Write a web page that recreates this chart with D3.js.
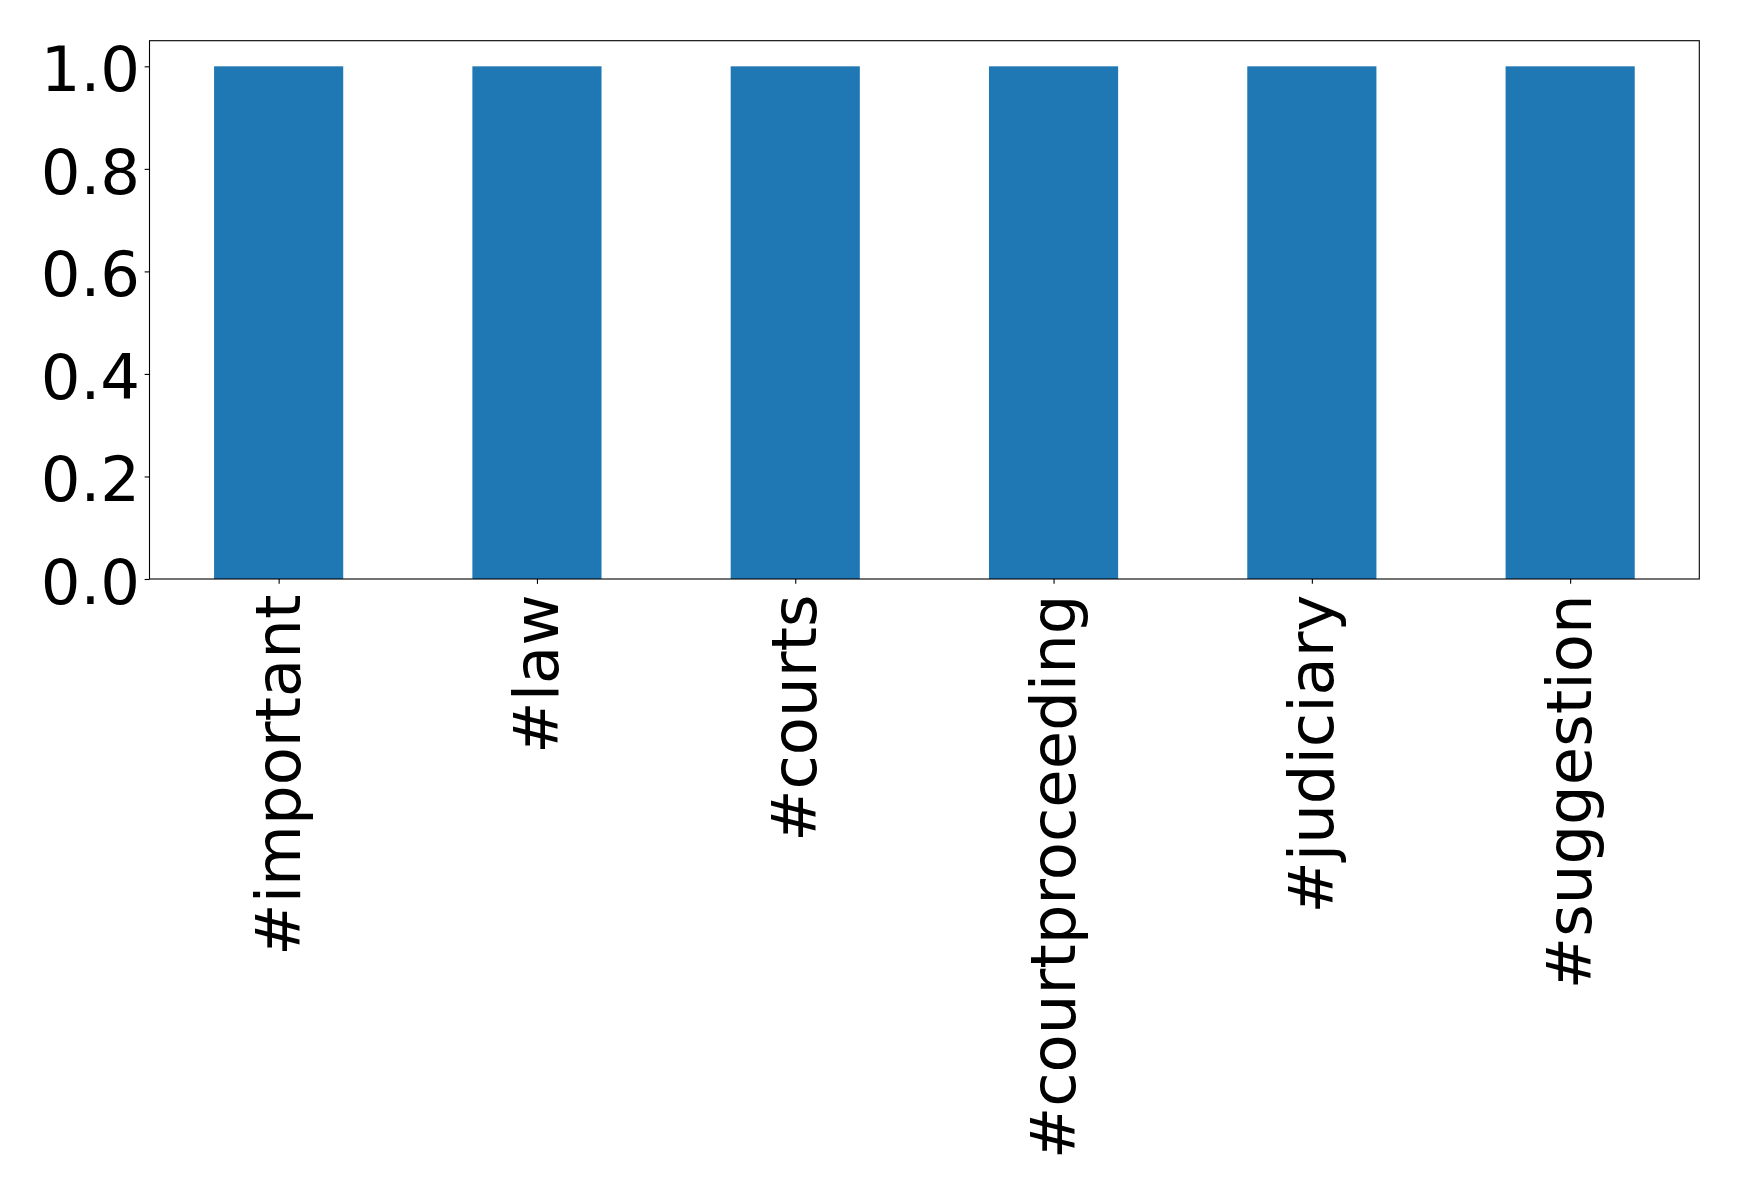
<!DOCTYPE html>
<html>
<head>
<meta charset="utf-8">
<script src="https://cdn.jsdelivr.net/npm/d3@7"></script>
<style>
  html, body { margin: 0; padding: 0; background: #fff; }
  svg { display: block; }
  text { font-family: "DejaVu Sans", sans-serif; fill: #000; }
</style>
</head>
<body>
<svg id="chart" width="1739" height="1193"></svg>
<script>
const categories = ["#important", "#law", "#courts", "#courtproceeding", "#judiciary", "#suggestion"];
const values = [1, 1, 1, 1, 1, 1];
const yTicks = [0.0, 0.2, 0.4, 0.6, 0.8, 1.0];

const W = 1739, H = 1193;
const margin = { left: 149.5, right: W - 1699.3, top: 40.7, bottom: H - 579 };
const iw = W - margin.left - margin.right;
const ih = H - margin.top - margin.bottom;
const fontSize = 62.5;
const tickLen = 4.86;

const svg = d3.select("#chart");
svg.append("rect").attr("width", W).attr("height", H).attr("fill", "#fff");
const g = svg.append("g").attr("transform", `translate(${margin.left},${margin.top})`);

// matplotlib-like: positions -0.5 .. n-0.5, bar width 0.5
const x = d3.scaleLinear().domain([-0.5, categories.length - 0.5]).range([0, iw]);
const y = d3.scaleLinear().domain([0, 1.05]).range([ih, 0]);
const barW = x(0.5) - x(0);

g.selectAll("rect.bar").data(values).join("rect")
  .attr("class", "bar")
  .attr("x", (d, i) => x(i) - barW / 2)
  .attr("width", barW)
  .attr("y", d => y(d))
  .attr("height", d => y(0) - y(d))
  .attr("fill", "#1f77b4");

// Y axis
const yAxis = d3.axisLeft(y).tickValues(yTicks).tickFormat(d3.format(".1f"))
  .tickSize(tickLen).tickPadding(4.5);
const yg = g.append("g").call(yAxis);
yg.select(".domain").remove();
yg.selectAll(".tick line").attr("stroke", "#000").attr("stroke-width", 1.1);
yg.selectAll(".tick text").attr("font-size", fontSize).attr("dy", "0.39em")
  .attr("font-family", "DejaVu Sans");

// X axis
const xAxis = d3.axisBottom(x).tickValues(d3.range(categories.length))
  .tickFormat(i => categories[i]).tickSize(tickLen).tickPadding(4.86);
const xg = g.append("g").attr("transform", `translate(0,${ih})`).call(xAxis);
xg.select(".domain").remove();
xg.selectAll(".tick line").attr("stroke", "#000").attr("stroke-width", 1.1);
xg.selectAll(".tick text")
  .attr("font-size", fontSize)
  .attr("font-family", "DejaVu Sans")
  .attr("text-anchor", "end")
  .attr("x", 0).attr("y", 0)
  .attr("dy", "0.33em")
  .attr("transform", `translate(0,15.5) rotate(-90)`);

// frame
g.append("rect").attr("x", 0).attr("y", 0).attr("width", iw).attr("height", ih)
  .attr("fill", "none").attr("stroke", "#000").attr("stroke-width", 1.1);
</script>
</body>
</html>
